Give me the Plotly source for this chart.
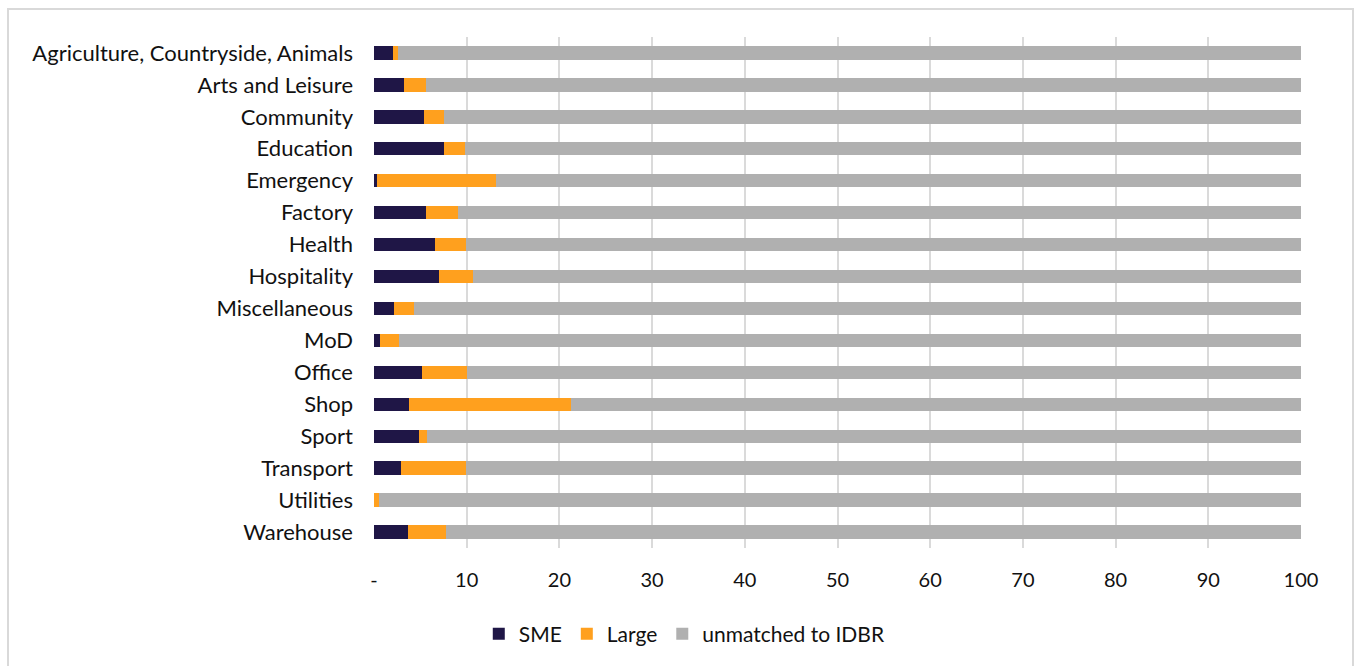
import plotly.graph_objects as go

categories = [
    "Agriculture, Countryside, Animals", "Arts and Leisure", "Community",
    "Education", "Emergency", "Factory", "Health", "Hospitality",
    "Miscellaneous", "MoD", "Office", "Shop", "Sport", "Transport",
    "Utilities", "Warehouse",
]
sme = [2.0, 3.2, 5.35, 7.6, 0.35, 5.6, 6.6, 7.0, 2.2, 0.7, 5.15, 3.8, 4.87, 2.86, 0.05, 3.65]
large = [0.6, 2.4, 2.15, 2.2, 12.8, 3.5, 3.35, 3.65, 2.1, 2.0, 4.85, 17.4, 0.83, 7.04, 0.45, 4.1]
unmatched = [round(100 - s - l, 2) for s, l in zip(sme, large)]

tick_vals = [0, 10, 20, 30, 40, 50, 60, 70, 80, 90, 100]
tick_text = ["-", "10", "20", "30", "40", "50", "60", "70", "80", "90", "100"]

FONT = "Lato"
series = [
    ("SME", sme, "#1f1646"),
    ("Large", large, "#ffa01e"),
    ("unmatched to IDBR", unmatched, "#b0b0b0"),
]

fig = go.Figure()
for name, vals, color in series:
    fig.add_trace(go.Bar(
        y=categories, x=vals, name=name, orientation="h",
        marker=dict(color=color, line=dict(width=0)),
    ))

W, H = 1356, 666
ML, MR, MT, MB = 374, 55, 37, 118
pw, ph = W - ML - MR, H - MT - MB

fig.update_layout(
    width=W, height=H,
    barmode="stack", bargap=0.58,
    margin=dict(l=ML, r=MR, t=MT, b=MB),
    paper_bgcolor="white", plot_bgcolor="white",
    font=dict(family=FONT, size=22, color="#111111"),
    xaxis=dict(
        range=[0, 100], tickvals=tick_vals, ticktext=tick_text,
        showgrid=True, gridcolor="#dadada", gridwidth=2,
        zeroline=False, showline=False, ticks="",
        ticklabelstandoff=18, tickfont=dict(size=20),
    ),
    yaxis=dict(
        autorange="reversed", showgrid=False, zeroline=False,
        showline=False, ticks="", ticklabelstandoff=20,
        tickfont=dict(size=22),
    ),
    legend=dict(
        orientation="h", xref="container", yref="container",
        x=0.505, xanchor="center", y=0.048, yanchor="middle",
        font=dict(size=21), itemwidth=30, traceorder="normal",
    ),
    showlegend=True,
)

# outer chart frame
fig.add_shape(
    type="rect", xref="paper", yref="paper",
    x0=(8 - ML) / pw, x1=(1353 - ML) / pw,
    y0=(H - MB - 680) / ph, y1=(H - MB - 9) / ph,
    line=dict(color="#d9d9d9", width=2), fillcolor="rgba(0,0,0,0)",
    layer="below",
)

fig.write_html("out.html")
